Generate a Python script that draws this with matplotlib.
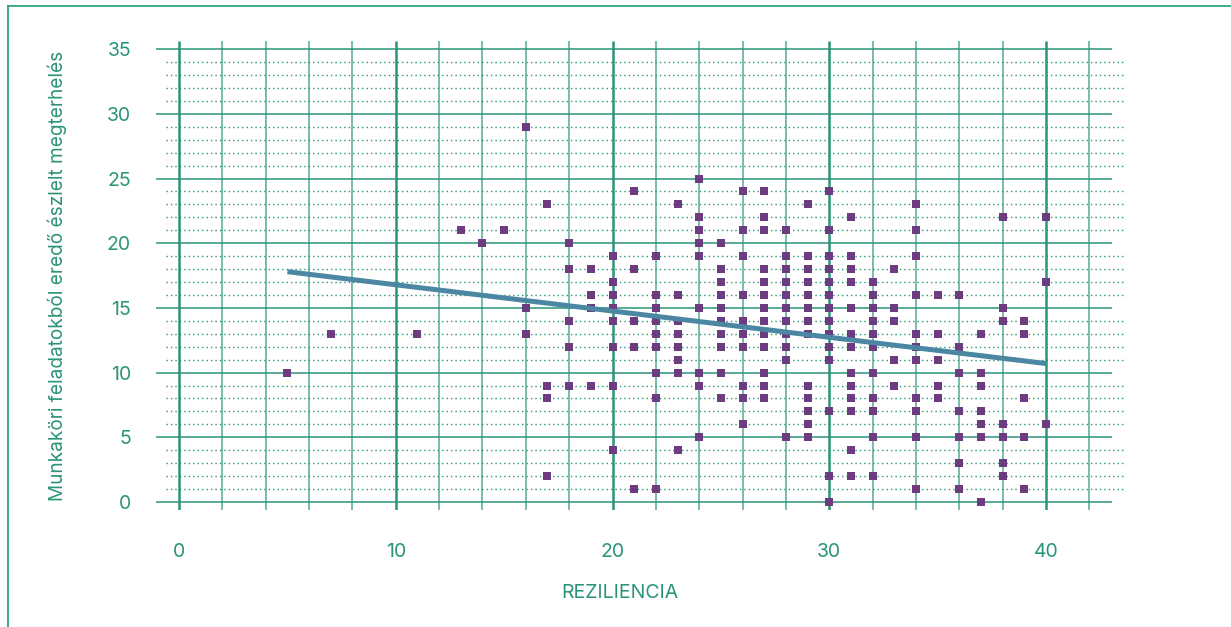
import matplotlib
matplotlib.use("Agg")
import matplotlib.pyplot as plt
from matplotlib.lines import Line2D

# ---- data ----
rez_values = {
    5: [10],
    7: [13],
    11: [13],
    13: [21],
    14: [20],
    15: [21],
    16: [29, 15, 13],
    17: [23, 9, 8, 2],
    18: [20, 18, 14, 12, 9],
    19: [18, 16, 15, 9],
    20: [19, 17, 16, 15, 14, 12, 9, 4],
    21: [24, 18, 14, 12, 1],
    22: [19, 16, 15, 14, 13, 12, 10, 8, 1],
    23: [23, 16, 14, 13, 12, 11, 10, 4],
    24: [25, 22, 21, 20, 19, 15, 10, 9, 5],
    25: [20, 18, 17, 16, 15, 14, 13, 12, 10, 8],
    26: [24, 21, 19, 16, 14, 13, 12, 9, 8, 6],
    27: [24, 22, 21, 18, 17, 16, 15, 14, 13, 12, 10, 9, 8],
    28: [21, 19, 18, 17, 16, 15, 14, 13, 12, 11, 5],
    29: [23, 19, 18, 17, 16, 15, 14, 13, 9, 8, 7, 6, 5],
    30: [24, 21, 19, 18, 17, 16, 15, 14, 13, 12, 11, 7, 2, 0],
    31: [22, 19, 18, 17, 15, 13, 12, 10, 9, 8, 7, 4, 2],
    32: [17, 16, 15, 14, 13, 12, 10, 8, 7, 5, 2],
    33: [18, 15, 14, 11, 9],
    34: [23, 21, 19, 16, 13, 12, 11, 8, 7, 5, 1],
    35: [16, 13, 11, 9, 8],
    36: [16, 12, 10, 7, 5, 3, 1],
    37: [13, 10, 9, 7, 6, 5, 0],
    38: [22, 15, 14, 6, 5, 3, 2],
    39: [14, 13, 8, 5, 1],
    40: [22, 17, 6],
}
rezilijencia = [x for x, ys in rez_values.items() for _ in ys]
megterheles = [y for ys in rez_values.values() for y in ys]

trend_x = [5, 40]
trend_y = [17.8, 10.7]

x_ticks = [0, 10, 20, 30, 40]
y_ticks = [0, 5, 10, 15, 20, 25, 30, 35]
x_label = "REZILIENCIA"
y_label = "Munkaköri feladatokból eredő észlelt megterhelés"

# ---- styling ----
TEAL = "#2a9478"
TEAL_LIGHT = "#55ab95"
PURPLE = "#6c3b80"
LINE = "#4b87a3"
FONT = ["Inter", "DejaVu Sans"]
plt.rcParams["font.family"] = FONT

W, H = 1231, 627
fig = plt.figure(figsize=(W / 100, H / 100), dpi=100)
fig.patch.set_facecolor("white")

ax_l, ax_r, ax_t, ax_b = 156, 1126, 41, 510
ax = fig.add_axes([ax_l / W, 1 - ax_b / H, (ax_r - ax_l) / W, (ax_b - ax_t) / H])

# pixel -> data mapping of the reference
px0, px_per = 179.0, 21.675
py0, py_per = 502.0, 12.94
def xd(p): return (p - px0) / px_per
def yd(p): return (py0 - p) / py_per

xmin, xmax = xd(ax_l), xd(ax_r)
ymin, ymax = yd(ax_b), yd(ax_t)
ax.set_xlim(xmin, xmax)
ax.set_ylim(ymin, ymax)

# grid: vertical lines every 2, thick every 10
for v in range(0, 43, 2):
    thick = v % 10 == 0
    ax.vlines(v, ymin, ymax, color=TEAL if thick else TEAL_LIGHT,
              lw=1.8 if thick else 1.1, zorder=1)
# solid horizontal lines every 5, dotted every 1
for h in range(0, 36):
    if h % 5 == 0:
        ax.hlines(h, xd(156), xd(1112), color=TEAL, lw=1.1, zorder=1)
    else:
        ax.hlines(h, xd(166), xmax, color=TEAL, lw=1.0,
                  linestyles=(0, (1, 2.2)), zorder=1)

ax.plot(rezilijencia, megterheles, linestyle="none", marker="s",
        markersize=5.8, color=PURPLE, markeredgewidth=0, zorder=3)
ax.plot(trend_x, trend_y, color=LINE, lw=3.6, solid_capstyle="butt", zorder=4)

for s in ax.spines.values():
    s.set_visible(False)
ax.set_xticks(x_ticks)
ax.set_yticks(y_ticks)
ax.tick_params(axis="both", length=0, labelcolor=TEAL, labelsize=14)
ax.tick_params(axis="y", pad=18)
ax.tick_params(axis="x", pad=24)

ax.set_xlabel(x_label, color=TEAL, fontsize=14)
ax.xaxis.set_label_coords((620 - ax_l) / (ax_r - ax_l), -(584 - ax_b) / (ax_b - ax_t))
ax.set_ylabel(y_label, color=TEAL, fontsize=13.7)
ax.yaxis.set_label_coords((67 - ax_l) / (ax_r - ax_l), 0.5)

# outer frame (top and left edges)
fig.add_artist(Line2D([8 / W, 1], [1 - 6 / H, 1 - 6 / H], color="#1f9a7a", lw=1.2,
                      transform=fig.transFigure))
fig.add_artist(Line2D([8 / W, 8 / W], [0, 1 - 6 / H], color="#1f9a7a", lw=1.2,
                      transform=fig.transFigure))

fig.savefig("out.png", dpi=100, facecolor="white")
